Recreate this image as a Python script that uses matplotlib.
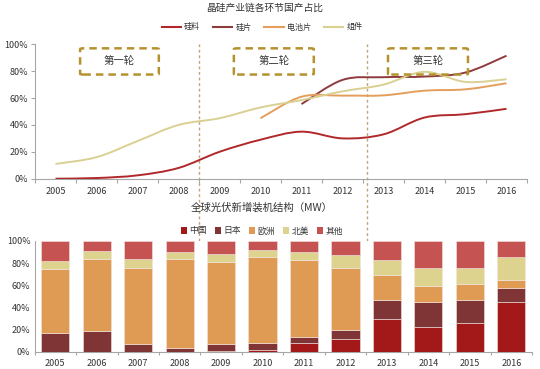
import numpy as np
import matplotlib
matplotlib.use("Agg")
import matplotlib.pyplot as plt
from matplotlib.path import Path
from matplotlib.patches import PathPatch, FancyBboxPatch, Patch
from matplotlib.lines import Line2D

plt.rcParams['font.family'] = ['Noto Sans CJK SC', 'DejaVu Sans']

years = ['2005', '2006', '2007', '2008', '2009', '2010', '2011', '2012', '2013', '2014', '2015', '2016']

# top chart: domestic share (%)
silicon = [0, 0.5, 2.5, 8, 20, 29, 35, 30, 33, 45.5, 48, 52]
wafer = [None, None, None, None, None, None, 55.5, 73.5, 75.5, 76, 79, 91.5]
cell = [None, None, None, None, None, 45, 61, 61.8, 62, 65.5, 66.5, 71]
module = [11, 16, 28, 40, 45, 53, 58.5, 65, 70, 79.5, 72, 74]

line_names = ['硅料', '硅片', '电池片', '组件']
line_colors = ['#B0282A', '#8E3B3E', '#E49E5C', '#DAD092']

# bottom chart: cumulative tops (%)
china_top = [0, 0, 0, 0, 0.5, 1.5, 8.1, 11.1, 29.8, 22.3, 26.2, 45.2]
japan_top = [16.6, 18.4, 6.9, 3.0, 6.6, 7.5, 13.0, 19.6, 46.7, 44.6, 47.0, 57.2]
europe_top = [74.4, 83.4, 75.9, 83.4, 81.0, 85.8, 82.8, 75.6, 69.6, 59.3, 60.8, 65.0]
namerica_top = [82.2, 91.3, 83.7, 89.8, 88.0, 92.0, 90.4, 87.3, 82.8, 75.3, 75.9, 85.2]

bar_names = ['中国', '日本', '欧洲', '北美', '其他']
bar_colors = ['#A3191A', '#7F3536', '#DF9B53', '#DDD28E', '#C55351']

rounds = ['第一轮', '第二轮', '第三轮']

W, H = 540, 369
fig = plt.figure(figsize=(W / 100, H / 100), dpi=100)

text_c = '#333333'
axis_c = '#A6A6A6'


def smooth_path(xs, ys):
    pts = np.array([(x, y) for x, y in zip(xs, ys) if y is not None], dtype=float)
    n = len(pts)
    verts = [pts[0]]
    codes = [Path.MOVETO]
    for i in range(n - 1):
        p0 = pts[i - 1] if i > 0 else pts[i]
        p1 = pts[i]
        p2 = pts[i + 1]
        p3 = pts[i + 2] if i + 2 < n else pts[i + 1]
        c1 = p1 + (p2 - p0) / 6.0
        c2 = p2 - (p3 - p1) / 6.0
        verts += [c1, c2, p2]
        codes += [Path.CURVE4] * 3
    return Path(verts, codes)


# ---------------- top chart ----------------
ax1 = fig.add_axes([35 / W, 1 - 178.7 / H, 492 / W, 134.4 / H])
x = np.arange(len(years))
for vals, c in zip([silicon, wafer, cell, module], line_colors):
    ax1.add_patch(PathPatch(smooth_path(x, vals), fill=False, edgecolor=c, lw=1.4,
                            capstyle='butt', zorder=3))
ax1.set_xlim(-0.5, 11.5)
ax1.set_ylim(0, 100)
ax1.set_yticks(np.arange(0, 101, 20))
ax1.set_yticklabels([f'{v}%' for v in range(0, 101, 20)])
ax1.set_xticks(x)
ax1.set_xticklabels(years)
ax1.set_xticks(np.arange(-0.5, 12, 1), minor=True)
ax1.tick_params(axis='x', which='major', length=0, pad=6, labelsize=6.5, colors=text_c)
ax1.tick_params(axis='x', which='minor', length=3, color=axis_c, width=0.8)
ax1.tick_params(axis='y', length=3, color=axis_c, width=0.8, labelsize=6.5, labelcolor=text_c, pad=2)
for s in ['top', 'right']:
    ax1.spines[s].set_visible(False)
for s in ['left', 'bottom']:
    ax1.spines[s].set_color(axis_c)
    ax1.spines[s].set_linewidth(0.8)

# dashed separators spanning down into the lower chart
for xv in [3.5, 7.6]:
    ax1.axvline(xv, ymin=-0.465, ymax=1.0, color='#BFA37A', lw=1, ls=(0, (2, 2)),
                clip_on=False, zorder=1)

# round boxes
box_x = [(0.6, 2.52), (4.35, 6.3), (8.11, 10.06)]
for (x0, x1), label in zip(box_x, rounds):
    bb = FancyBboxPatch((x0, 77.5), x1 - x0, 19.5,
                        boxstyle='round,pad=0,rounding_size=0.08',
                        mutation_aspect=8, fill=False, edgecolor='#B5922F',
                        lw=1.8, ls=(0, (3, 2)), zorder=4)
    ax1.add_patch(bb)
    ax1.text((x0 + x1) / 2, 87.3, label, ha='center', va='center',
             fontsize=7.5, color=text_c, zorder=5)

fig.text(265 / W, 1 - 8 / H, '晶硅产业链各环节国产占比', ha='center', va='center',
         fontsize=7, color=text_c)
handles = [Line2D([], [], color=c, lw=1.5) for c in line_colors]
fig.legend(handles, line_names, loc='center', bbox_to_anchor=(262 / W, 1 - 27 / H),
           ncol=4, frameon=False, fontsize=5.8, handlelength=2.4, handletextpad=0.4,
           columnspacing=1.6, labelcolor=text_c)

# ---------------- bottom chart ----------------
ax2 = fig.add_axes([34.6 / W, 1 - 351.7 / H, 497.4 / W, 110.7 / H])
tops = [china_top, japan_top, europe_top, namerica_top, [100] * len(years)]
prev = np.zeros(len(years))
for t, c, name in zip(tops, bar_colors, bar_names):
    t = np.array(t, dtype=float)
    ax2.bar(x, t - prev, bottom=prev, width=0.68, color=c, edgecolor='#F2E6E0',
            linewidth=0.4, label=name, zorder=3)
    prev = t
ax2.set_xlim(-0.5, 11.5)
ax2.set_ylim(0, 100)
ax2.set_yticks(np.arange(0, 101, 20))
ax2.set_yticklabels([f'{v}%' for v in range(0, 101, 20)])
ax2.set_xticks(x)
ax2.set_xticklabels(years)
ax2.set_xticks(np.arange(-0.5, 12, 1), minor=True)
ax2.tick_params(axis='x', which='major', length=0, pad=5, labelsize=6.5, colors=text_c)
ax2.tick_params(axis='x', which='minor', length=2, color=axis_c, width=0.8)
ax2.tick_params(axis='y', length=0, labelsize=6.5, labelcolor=text_c, pad=3)
for s in ['top', 'right']:
    ax2.spines[s].set_visible(False)
for s in ['left', 'bottom']:
    ax2.spines[s].set_color(axis_c)
    ax2.spines[s].set_linewidth(0.8)

fig.text(262 / W, 1 - 208 / H, '全球光伏新增装机结构（MW）', ha='center', va='center',
         fontsize=7.5, color=text_c)
bh = [Patch(facecolor=c, edgecolor='none') for c in bar_colors]
fig.legend(bh, bar_names, loc='center', bbox_to_anchor=(262 / W, 1 - 231 / H),
           ncol=5, frameon=False, fontsize=6.3, handlelength=0.7, handleheight=0.7,
           handletextpad=0.3, columnspacing=0.9, labelcolor=text_c)

fig.savefig('out.png', dpi=100, facecolor='white')
